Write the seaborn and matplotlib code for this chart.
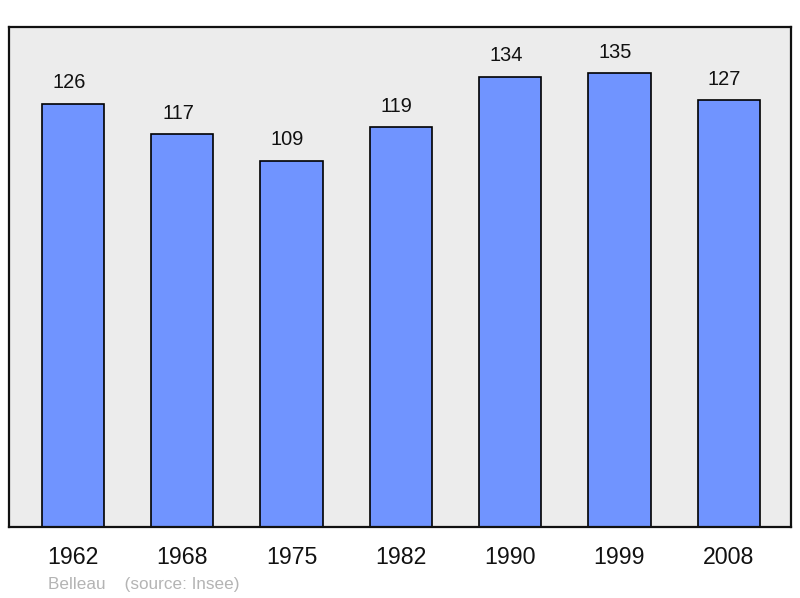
import matplotlib
matplotlib.use("Agg")
import matplotlib.pyplot as plt
import seaborn as sns

# population data (Belleau, Insee)
years = ["1962", "1968", "1975", "1982", "1990", "1999", "2008"]
population = [126, 117, 109, 119, 134, 135, 127]

sns.set_style("white")
plt.rcParams["font.family"] = ["Liberation Sans", "DejaVu Sans"]

fig = plt.figure(figsize=(8, 5.98), dpi=100)
ax = fig.add_axes([9 / 800, 71 / 598, 782 / 800, 500 / 598])
ax.set_facecolor("#ececec")

sns.barplot(x=years, y=population, color="#7094ff", saturation=1,
            width=0.57, edgecolor="black", linewidth=1.2, ax=ax, zorder=2)

for i, v in enumerate(population):
    ax.annotate(str(v), (i, v), xytext=(-3, 11), textcoords="offset points",
                ha="center", va="baseline", fontsize=14.4, color="#111111")

ax.set_xlim(-0.585, 6.57)
ax.set_ylim(0, 148.8)
ax.set_yticks([])
ax.set_xlabel("")
ax.set_ylabel("")
ax.tick_params(axis="x", length=0, pad=13.5, labelsize=16.7, colors="#111111")

for s in ax.spines.values():
    s.set_visible(True)
    s.set_color("#111111")
    s.set_linewidth(1.6)

fig.text(48 / 800, 1 - 584 / 598, "Belleau    (source: Insee)",
         fontsize=12.3, color="#b4b4b4", va="center", ha="left")

fig.savefig("out.png", dpi=100)
